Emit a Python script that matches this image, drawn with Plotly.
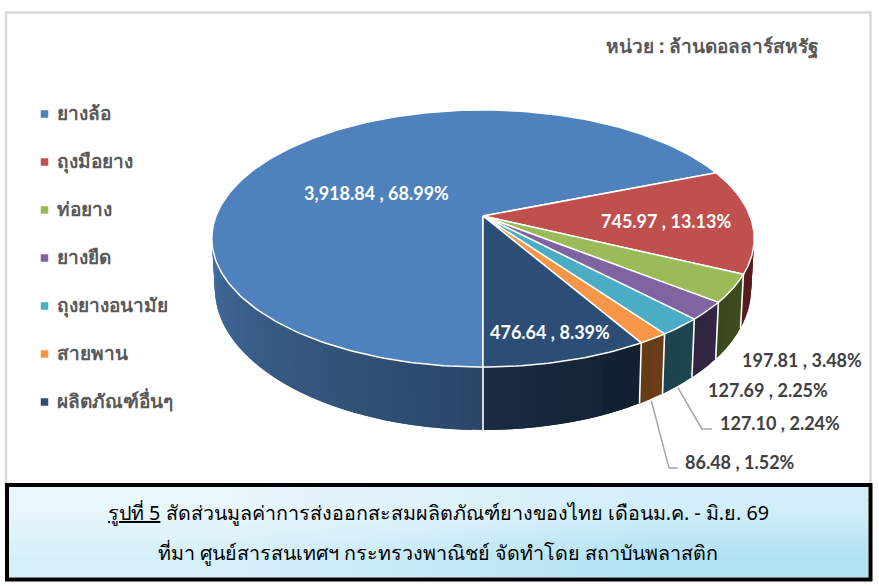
import numpy as np
import plotly.graph_objects as go

categories = ['ยางล้อ', 'ถุงมือยาง', 'ท่อยาง', 'ยางยืด', 'ถุงยางอนามัย', 'สายพาน', 'ผลิตภัณฑ์อื่นๆ']
values = [3918.84, 745.97, 197.81, 127.69, 127.10, 86.48, 476.64]
percents = [68.99, 13.13, 3.48, 2.25, 2.24, 1.52, 8.39]

top_colors = ['#4f81bd', '#c0504d', '#9bbb59', '#8064a2', '#4bacc6', '#f79646', '#2c4d75']
wall_from = ['#2b4768', '#5e2120', '#3f4c20', '#342745', '#1e4650', '#6a3d18', '#12202f']
wall_to = ['#4a78ae', '#571c1b', '#3b481d', '#2f2440', '#1c424d', '#663a16', '#1b2e46']

label_pos = [(376, 193), (666, 221), (802, 360), (768, 390), (780, 423), (740, 462), (550, 332)]
label_inside = [True, True, False, False, False, False, True]
legend_y = [114, 162, 210, 258, 306, 354, 402]

font_body = 'Noto Sans, Tahoma, sans-serif'
font_num = 'Lato, Open Sans, sans-serif'

# the picture is a tilted disc seen in perspective, in pixels of the page
CX, CY = 483, 216
K = 0.175
TOP_A, TOP_B = 267, 124.6
LOW_CY, LOW_A, LOW_B = 264, 264, 137


def top_xy(theta):
    t = np.radians(theta)
    s = 1 / (1 + K * np.cos(t))
    return CX + TOP_A * np.sin(t) * s, CY - TOP_B * np.cos(t) * s


def low_xy(theta):
    t = np.radians(theta)
    s = 1 / (1 + K * np.cos(t))
    return CX + LOW_A * np.sin(t) * s, LOW_CY - LOW_B * np.cos(t) * s


def mix(c1, c2, f):
    a = [int(c1[i:i + 2], 16) for i in (1, 3, 5)]
    b = [int(c2[i:i + 2], 16) for i in (1, 3, 5)]
    return 'rgb(%d,%d,%d)' % tuple(a[i] + (b[i] - a[i]) * f for i in range(3))


def poly(x, y, fill, line=None, width=0):
    return go.Scatter(x=list(x), y=list(y), mode='lines', fill='toself', fillcolor=fill,
                      line=dict(color=line or fill, width=width), hoverinfo='skip', showlegend=False)


fracs = np.array(values) / sum(values)
edges = 180 + 360 * np.concatenate([[0], np.cumsum(fracs)])

fig = go.Figure()

# caption box background, cell centres so that the cells end at the box edges
fig.add_trace(go.Heatmap(x=[223.75, 653.25], y=[509.5, 554.5], z=[[0.1, 0.45], [0.4, 0.8]], zsmooth='best',
                         showscale=False, hoverinfo='skip',
                         colorscale=[[0, '#e9f6fb'], [0.5, '#d2eef8'], [1, '#b1e2f4']]))

# side walls, each strip runs under the next one so no seams show
dividers = []
for i in range(len(values)):
    a, b = edges[i], edges[i + 1]
    if a >= 360:
        a, b = a - 360, b - 360
    lo, hi = max(a, 90), min(b, 285)
    if hi <= lo:
        continue
    steps = max(1, int((hi - lo) / 2))
    th = np.linspace(lo, hi, steps + 1)
    for j in range(steps):
        t2 = th[min(j + 2, steps)]
        x1, y1 = top_xy(th[j])
        x2, y2 = top_xy(t2)
        x3, y3 = low_xy(t2)
        x4, y4 = low_xy(th[j])
        f = (th[j] - lo) / (hi - lo)
        fig.add_trace(poly([x1, x2, x3, x4, x1], [y1, y2, y3, y4, y1], mix(wall_from[i], wall_to[i], f)))
    if 90 < a < 285:
        dividers.append(a)

for d in dividers:
    x1, y1 = top_xy(d)
    x2, y2 = low_xy(d)
    fig.add_trace(go.Scatter(x=[x1, x2], y=[y1, y2], mode='lines', line=dict(color='white', width=1.6),
                             hoverinfo='skip', showlegend=False))

# top of the pie
for i in range(len(values)):
    th = np.linspace(edges[i], edges[i + 1], max(3, int(edges[i + 1] - edges[i]) + 2))
    x, y = top_xy(th)
    fig.add_trace(poly(np.r_[CX, x, CX], np.r_[CY, y, CY], top_colors[i], 'white', 1.5))

# leader lines for the two thin slices
for i, elbow in ((4, [(702, 429), (712, 429)]), (5, [(669, 468), (678, 468)])):
    sx, sy = low_xy((edges[i] + edges[i + 1]) / 2 - 360)
    fig.add_trace(go.Scatter(x=[sx] + [p[0] for p in elbow], y=[sy + 2] + [p[1] for p in elbow], mode='lines',
                             line=dict(color='#a6a6a6', width=1.5), hoverinfo='skip', showlegend=False))

# legend
for i, name in enumerate(categories):
    fig.add_trace(go.Scatter(x=[44.5], y=[legend_y[i]], mode='markers', name=name, showlegend=False,
                             marker=dict(symbol='square', size=7.5, color=top_colors[i])))
    fig.add_annotation(x=55, y=legend_y[i] - 1.5, text='<b>%s</b>' % name, showarrow=False, xanchor='left',
                       font=dict(family=font_body, size=19, color='#595959'))

# data labels
for i in range(len(values)):
    fig.add_annotation(x=label_pos[i][0], y=label_pos[i][1], showarrow=False,
                       text='<b>%s , %.2f%%</b>' % (format(values[i], ',.2f'), percents[i]),
                       font=dict(family=font_num, size=18, color='white' if label_inside[i] else '#404040'))

fig.add_annotation(x=820, y=46, text='<b>หน่วย : ล้านดอลลาร์สหรัฐ</b>', showarrow=False, xanchor='right',
                   font=dict(family=font_body, size=19, color='#595959'))
fig.add_annotation(x=438, y=512.5, text='<u>รูปที่ 5</u> สัดส่วนมูลค่าการส่งออกสะสมผลิตภัณฑ์ยางของไทย เดือนม.ค. - มิ.ย. 69',
                   showarrow=False, font=dict(family=font_body, size=19.7, color='black'))
fig.add_annotation(x=438, y=552.5, text='ที่มา ศูนย์สารสนเทศฯ กระทรวงพาณิชย์ จัดทำโดย สถาบันพลาสติก',
                   showarrow=False, font=dict(family=font_body, size=19.7, color='black'))

# chart frame and caption border
fig.add_shape(type='rect', x0=6, y0=12.5, x1=870.5, y1=500, line=dict(color='#d9d9d9', width=2.5), layer='below')
fig.add_shape(type='rect', x0=7, y0=485, x1=870.5, y1=579.5, line=dict(color='black', width=4), layer='above')

fig.update_layout(
    width=879, height=586, margin=dict(l=0, r=0, t=0, b=0),
    paper_bgcolor='white', plot_bgcolor='rgba(0,0,0,0)', showlegend=False,
    xaxis=dict(range=[0, 879], visible=False, fixedrange=True),
    yaxis=dict(range=[586, 0], visible=False, fixedrange=True),
)
fig.write_html("out.html", config={'displayModeBar': False}, post_script="document.body.style.margin='0';")
